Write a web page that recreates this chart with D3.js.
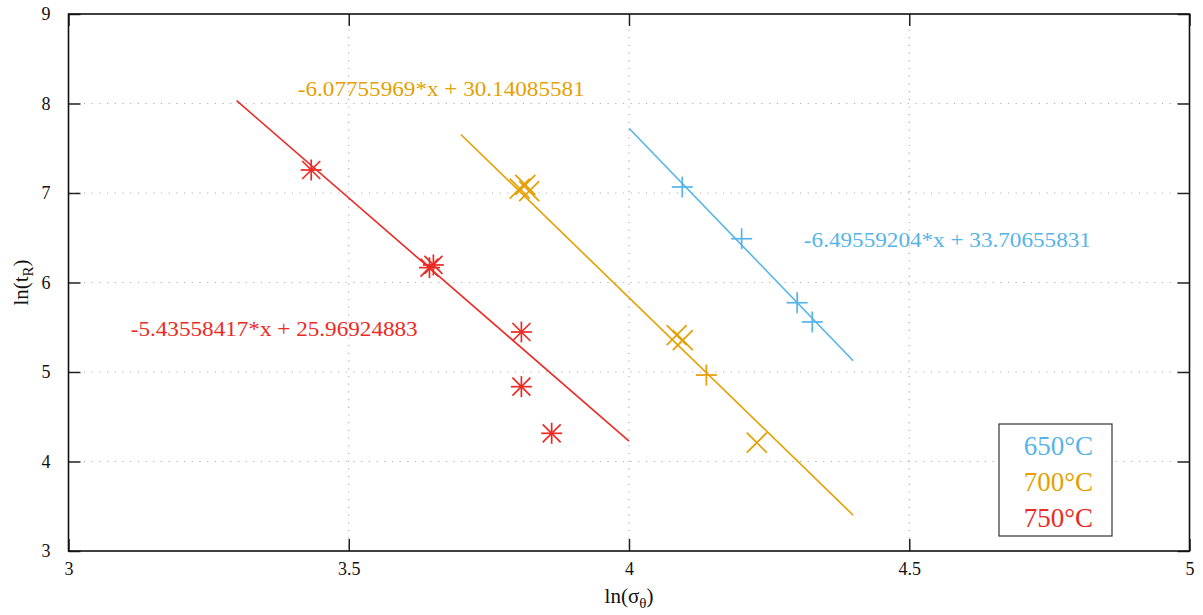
<!DOCTYPE html>
<html><head><meta charset="utf-8">
<script src="https://cdn.jsdelivr.net/npm/d3@7"></script>
<style>body{margin:0;background:#fff}svg{display:block}text{font-family:"Liberation Serif","Times New Roman",serif}</style>
</head><body>
<script>
// ---- data ----
const xTicks = [3, 3.5, 4, 4.5, 5];
const yTicks = [3, 4, 5, 6, 7, 8, 9];
const seriesNames = ["650°C", "700°C", "750°C"];
const seriesColors = ["#56b4e9", "#e69f00", "#eb2a24"];
const fitSlopes = [-6.49559204, -6.07755969, -5.43558417];
const fitIntercepts = [33.70655831, 30.14085581, 25.96924883];
const fitXStart = [4.0, 3.7, 3.3];
const fitXEnd = [4.4, 4.4, 4.0];
const fitLabels = ["-6.49559204*x + 33.70655831", "-6.07755969*x + 30.14085581", "-5.43558417*x + 25.96924883"];
const s650x = [4.095, 4.201, 4.300, 4.327];
const s650y = [7.067, 6.489, 5.774, 5.559];
const s650m = ["plus", "plus", "plus", "plus"];
const s700x = [3.805, 3.815, 3.822, 4.085, 4.096, 4.138, 4.228];
const s700y = [7.05, 7.09, 7.02, 5.413, 5.357, 4.966, 4.210];
const s700m = ["cross", "cross", "cross", "cross", "cross", "plus", "cross"];
const s750x = [3.433, 3.644, 3.651, 3.808, 3.808, 3.862];
const s750y = [7.257, 6.166, 6.196, 5.447, 4.836, 4.315];
const s750m = ["star", "star", "star", "star", "star", "star"];

const W = 1203, H = 615;
const L = 68.5, R = 1189.5, T = 14, B = 551;
const svg = d3.select("body").append("svg").attr("width", W).attr("height", H);
const x = d3.scaleLinear().domain([3, 5]).range([L, R]);
const y = d3.scaleLinear().domain([3, 9]).range([B, T]);

// grid
const grid = svg.append("g").attr("stroke", "#b0b0b0").attr("stroke-width", 1.2).attr("stroke-dasharray", "1.2,6.5");
grid.selectAll(".gx").data(xTicks.slice(1, -1)).join("line")
  .attr("x1", d => x(d)).attr("x2", d => x(d)).attr("y1", T).attr("y2", B);
grid.selectAll(".gy").data(yTicks.slice(1, -1)).join("line")
  .attr("y1", d => y(d)).attr("y2", d => y(d)).attr("x1", L).attr("x2", R);

// axes with mirrored inward ticks
const tk = 12;
const axB = svg.append("g").attr("transform", `translate(0,${B})`)
  .call(d3.axisBottom(x).tickValues(xTicks).tickSize(-tk).tickPadding(11).tickFormat(d3.format("")));
const axT = svg.append("g").attr("transform", `translate(0,${T})`)
  .call(d3.axisTop(x).tickValues(xTicks).tickSize(-tk).tickFormat(""));
const axL = svg.append("g").attr("transform", `translate(${L},0)`)
  .call(d3.axisLeft(y).tickValues(yTicks).tickSize(-tk).tickPadding(18).tickFormat(d3.format("")));
const axR = svg.append("g").attr("transform", `translate(${R},0)`)
  .call(d3.axisRight(y).tickValues(yTicks).tickSize(-tk).tickFormat(""));
[axB, axT, axL, axR].forEach(a => {
  a.select(".domain").remove();
  a.selectAll(".tick line").attr("stroke", "#222").attr("stroke-width", 1.5);
  a.selectAll("text").attr("font-size", 18).attr("fill", "#111");
});
svg.append("rect").attr("x", L).attr("y", T).attr("width", R - L).attr("height", B - T)
  .attr("fill", "none").attr("stroke", "#111").attr("stroke-width", 1.6);

// fit lines
const plot = svg.append("g");
seriesNames.forEach((n, i) => {
  const pts = [fitXStart[i], fitXEnd[i]].map(v => [v, fitSlopes[i] * v + fitIntercepts[i]]);
  plot.append("path").attr("d", d3.line().x(d => x(d[0])).y(d => y(d[1]))(pts))
    .attr("stroke", seriesColors[i]).attr("stroke-width", 1.6).attr("fill", "none");
});

// markers
function marker(g, m, cx, cy, col) {
  const segs = [];
  if (m === "plus" || m === "star") segs.push([-10.5, 0, 10.5, 0], [0, -10.5, 0, 10.5]);
  if (m === "cross") segs.push([-10, -10, 10, 10], [-10, 10, 10, -10]);
  if (m === "star") segs.push([-9, -9, 9, 9], [-9, 9, 9, -9]);
  segs.forEach(s => g.append("line").attr("x1", cx + s[0]).attr("y1", cy + s[1]).attr("x2", cx + s[2]).attr("y2", cy + s[3])
    .attr("stroke", col).attr("stroke-width", 1.7));
}
[[s650x, s650y, s650m], [s700x, s700y, s700m], [s750x, s750y, s750m]].forEach((s, i) => {
  s[0].forEach((v, j) => marker(plot, s[2][j], x(v), y(s[1][j]), seriesColors[i]));
});

// fit labels (left baseline in data coordinates)
const labelPos = [[4.312, 6.397], [3.409, 8.084], [3.111, 5.402]];
fitLabels.forEach((t, i) => {
  svg.append("text").attr("x", x(labelPos[i][0])).attr("y", y(labelPos[i][1]))
    .attr("font-size", 21).attr("fill", seriesColors[i])
    .attr("textLength", 287).attr("lengthAdjust", "spacingAndGlyphs").text(t);
});

// legend
const lg = svg.append("g");
lg.append("rect").attr("x", 999).attr("y", 424).attr("width", 113).attr("height", 112)
  .attr("fill", "#fff").attr("stroke", "#333").attr("stroke-width", 1.2);
seriesNames.forEach((n, i) => {
  lg.append("text").attr("x", 1093).attr("y", 455 + i * 36).attr("text-anchor", "end")
    .attr("font-size", 27).attr("fill", seriesColors[i]).text(n);
});

// axis titles
const yl = svg.append("text").attr("transform", `translate(28,${(T + B) / 2}) rotate(-90)`)
  .attr("text-anchor", "middle").attr("font-size", 21).attr("fill", "#111");
yl.append("tspan").text("ln(t");
yl.append("tspan").attr("font-size", 15).attr("dy", 5).text("R");
yl.append("tspan").attr("dy", -5).text(")");
const xl = svg.append("text").attr("x", (L + R) / 2).attr("y", 603)
  .attr("text-anchor", "middle").attr("font-size", 21).attr("fill", "#111");
xl.append("tspan").text("ln(σ");
xl.append("tspan").attr("font-size", 15).attr("dy", 5).text("θ");
xl.append("tspan").attr("dy", -5).text(")");
</script>
</body></html>
